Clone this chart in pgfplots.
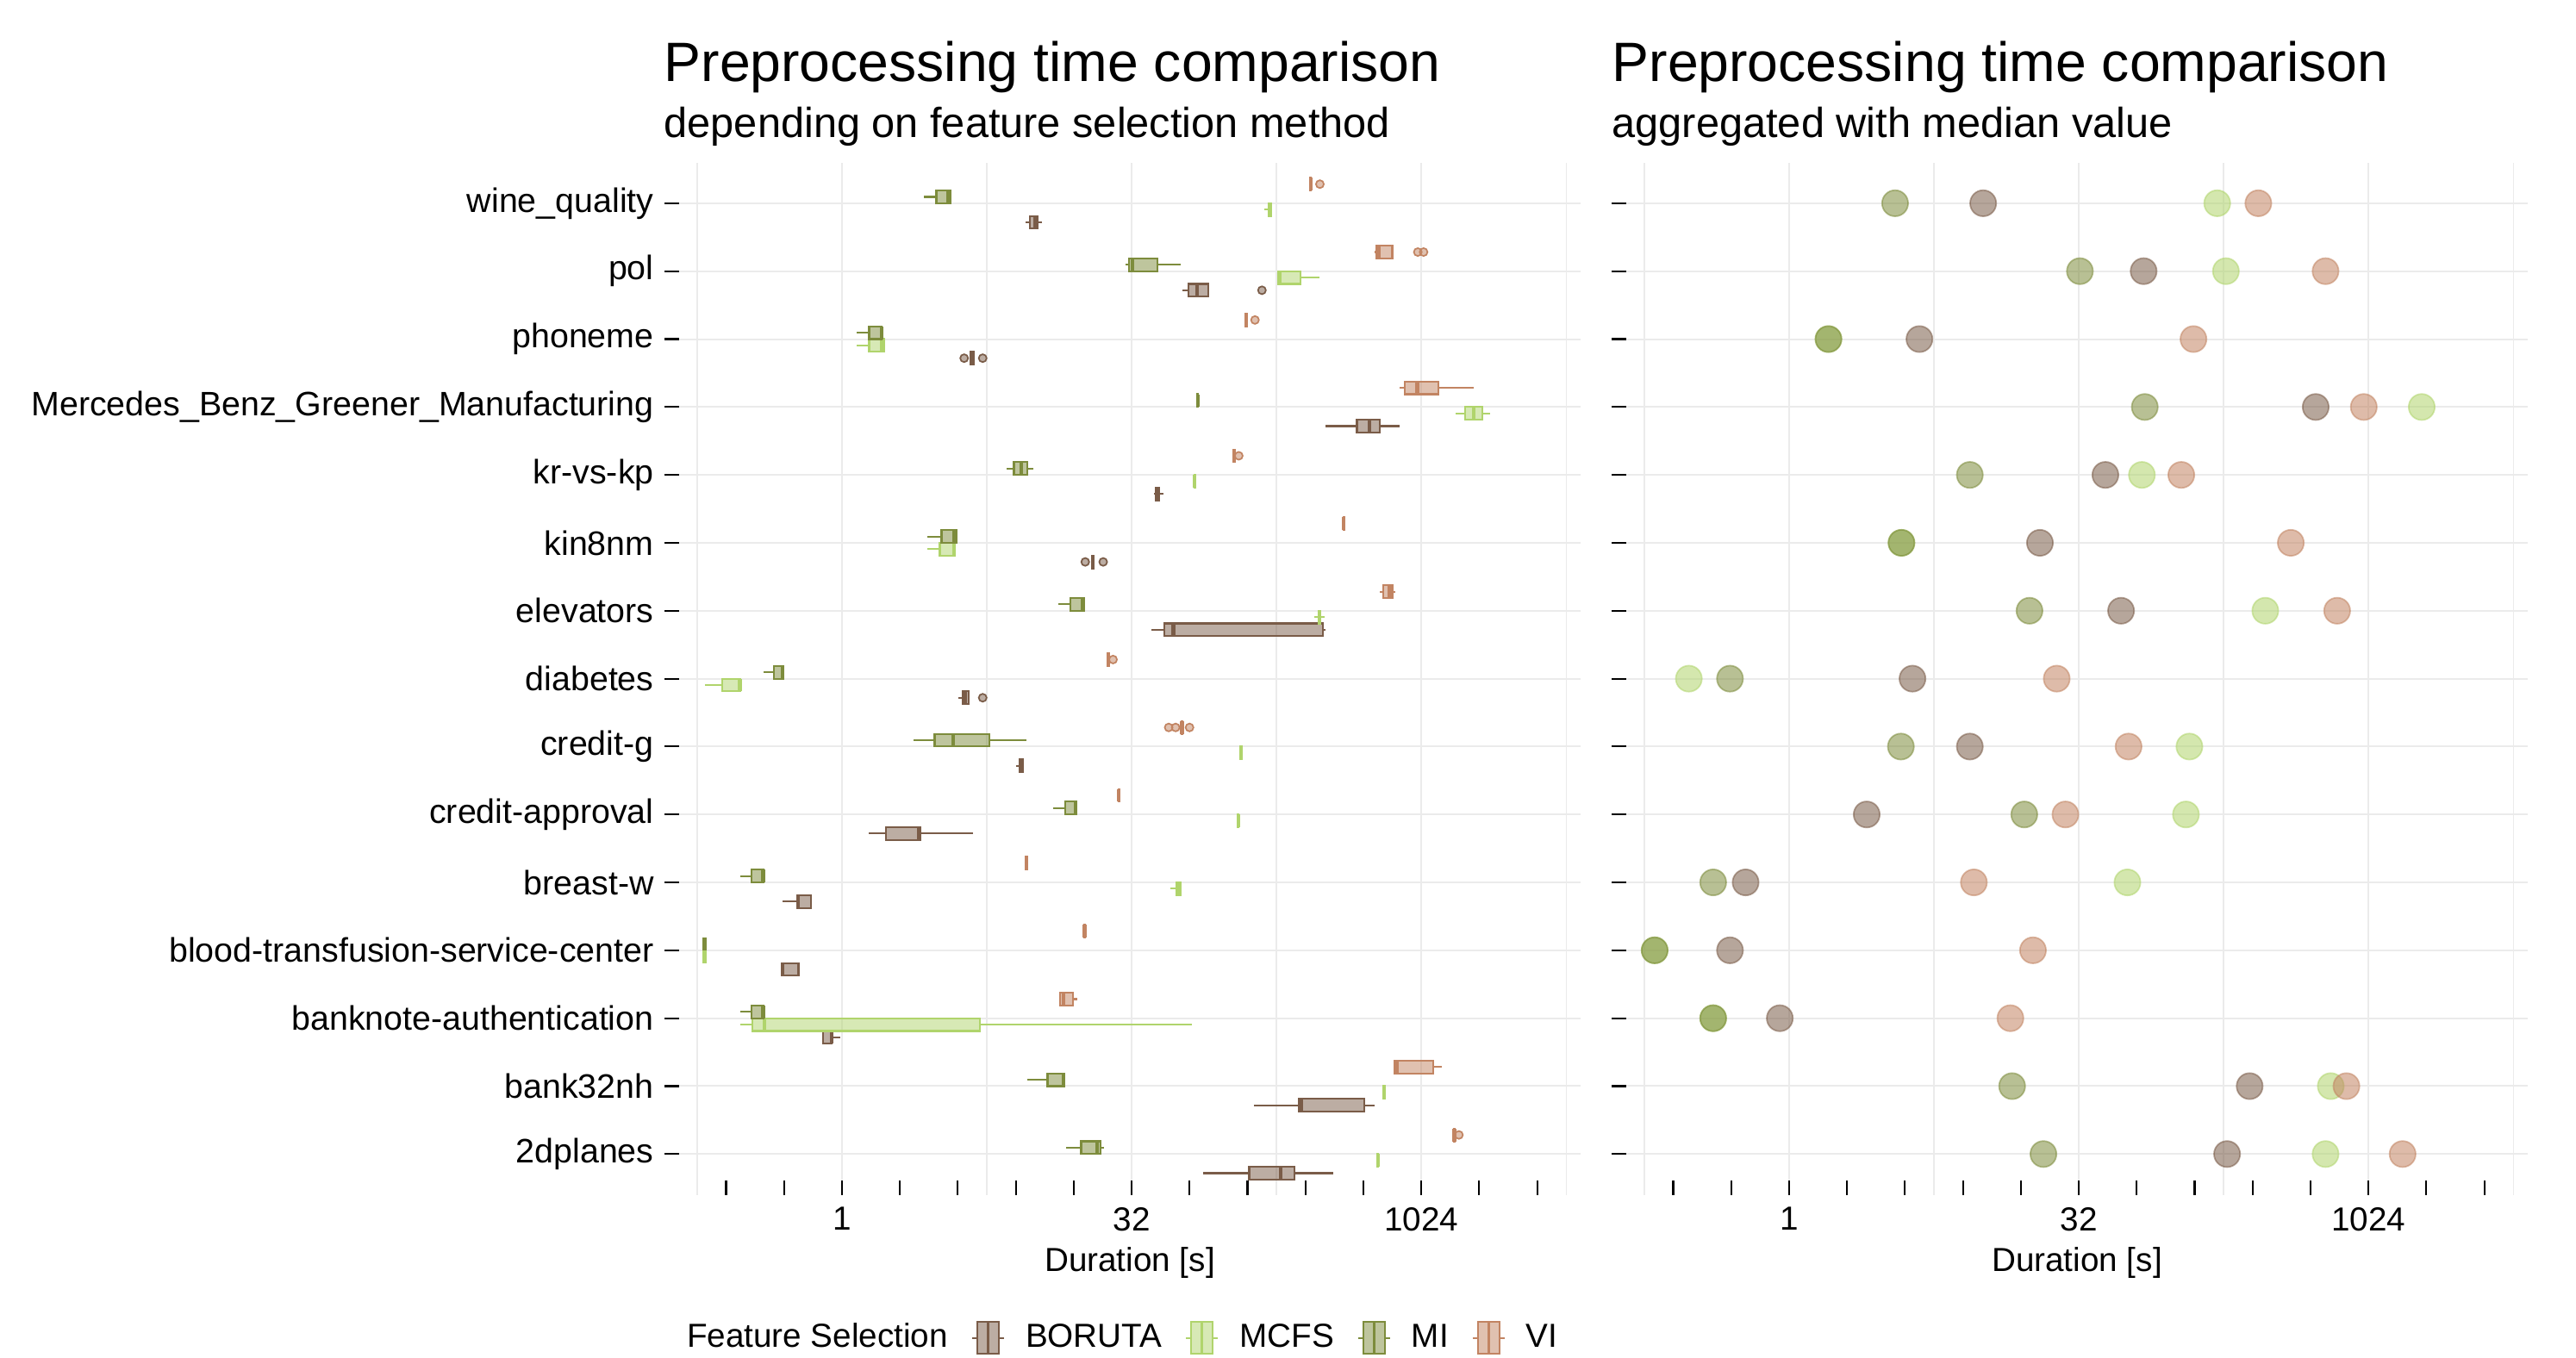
\documentclass[border=0pt]{standalone}
\usepackage{fontspec}
\setmainfont{Liberation Sans}
\usepackage{pgfplots}
\pgfplotsset{compat=1.18}
\usepgfplotslibrary{statistics}
\definecolor{cBor}{HTML}{7A5C48}
\definecolor{cMcf}{HTML}{B0D46C}
\definecolor{cMi}{HTML}{7D8C3C}
\definecolor{cVi}{HTML}{C28462}
\definecolor{gridc}{HTML}{EBEBEB}

\pgfplotsset{
  panel/.style={
    scale only axis, width=10.46cm, height=11.98cm,
    xmin=-2.81, xmax=12.75, ymin=0.4, ymax=15.6,
    axis line style={draw=none},
    xtick={0,5,10}, xticklabels={1,32,1024},
    minor xtick={-2,...,12},
    extra x ticks={-2.5,2.5,7.5,12.5}, extra x tick labels={},
    extra x tick style={major tick length=0pt, grid=major, major grid style={gridc, line width=0.38pt}},
    ytick={1,...,15},
    xtick align=inside, ytick align=outside,
    xtick pos=bottom, ytick pos=left,
    major tick length=0.17cm, minor tick length=0.17cm,
    every tick/.style={black, line width=0.6pt},
    xmajorgrids, ymajorgrids, xminorgrids=false,
    major grid style={gridc, line width=0.57pt},
    tick label style={font=\fontsize{11.2}{13}\selectfont, black},
    xticklabel style={yshift=-0.02cm, font=\fontsize{11}{13}\selectfont},
    label style={font=\fontsize{11}{13}\selectfont},
    xlabel={Duration [s]},
    xlabel style={at={(axis description cs:0.5,0)}, anchor=base, yshift=-0.89cm},
    boxplot/draw direction=x,
    boxplot/box extend=0.1875,
    boxplot/whisker extend=0,
  },
  bx/.style={draw=#1, fill=#1, fill opacity=0.5, line width=0.6pt, solid, mark=none,
    boxplot/every median/.style={line width=1.2pt}},
  ol/.style={only marks, mark=*, mark size=1.3pt, mark options={draw=#1, fill=#1, fill opacity=0.5, line width=0.5pt}},
  pt/.style={only marks, mark=*, mark size=4.3pt, mark options={draw=#1, fill=#1, fill opacity=0.55, draw opacity=0.55, line width=0.5pt}},
}

\newcommand{\bB}[6]{\addplot[bx=cBor, boxplot prepared={draw position=#1-0.28125, lower whisker=#2, lower quartile=#3, median=#4, upper quartile=#5, upper whisker=#6}] coordinates {};}
\newcommand{\bC}[6]{\addplot[bx=cMcf, boxplot prepared={draw position=#1-0.09375, lower whisker=#2, lower quartile=#3, median=#4, upper quartile=#5, upper whisker=#6}] coordinates {};}
\newcommand{\bM}[6]{\addplot[bx=cMi, boxplot prepared={draw position=#1+0.09375, lower whisker=#2, lower quartile=#3, median=#4, upper quartile=#5, upper whisker=#6}] coordinates {};}
\newcommand{\bV}[6]{\addplot[bx=cVi, boxplot prepared={draw position=#1+0.28125, lower whisker=#2, lower quartile=#3, median=#4, upper quartile=#5, upper whisker=#6}] coordinates {};}

\newcommand{\boxkey}[1]{%
  \draw[draw=#1, fill=#1, fill opacity=0.5, line width=0.57pt] (0.06cm,-0.185cm) rectangle (0.31cm,0.185cm);
  \draw[draw=#1, line width=0.9pt] (0.185cm,-0.185cm) -- (0.185cm,0.185cm);
  \draw[draw=#1, line width=0.57pt] (0cm,0cm) -- (0.06cm,0cm) (0.31cm,0cm) -- (0.37cm,0cm);}

\begin{document}
\begin{tikzpicture}
\useasboundingbox (0,0) rectangle (29.89,15.76);

% titles
\node[anchor=base west, inner sep=0pt, font=\fontsize{18.3}{21}\selectfont] at (7.70,14.81) {Preprocessing time comparison};
\node[anchor=base west, inner sep=0pt, font=\fontsize{13.86}{16}\selectfont] at (7.70,14.16) {depending on feature selection method};
\node[anchor=base west, inner sep=0pt, font=\fontsize{18.3}{21}\selectfont] at (18.70,14.81) {Preprocessing time comparison};
\node[anchor=base west, inner sep=0pt, font=\fontsize{13.86}{16}\selectfont] at (18.70,14.16) {aggregated with median value};

% ---------------- left panel: boxplots (values are log2 of duration in s)
\begin{axis}[panel, at={(7.88cm,1.894cm)}, anchor=south west,
  yticklabels={2dplanes,bank32nh,banknote-authentication,blood-transfusion-service-center,breast-w,credit-approval,credit-g,diabetes,elevators,kin8nm,kr-vs-kp,Mercedes\_Benz\_Greener\_Manufacturing,phoneme,pol,wine\_quality},
  legend columns=-1,
  legend style={draw=none, fill=none, inner sep=0pt, outer sep=0pt,
    at={(axis description cs:-0.0143,-0.1553)}, anchor=south west,
    font=\fontsize{11}{13}\selectfont, nodes={inner sep=0pt},
    /tikz/every odd column/.style={column sep=0.24cm},
    /tikz/every even column/.style={column sep=0.27cm}},
]
\addlegendimage{empty legend}\addlegendentry{Feature Selection}
\addlegendimage{legend image code/.code={\boxkey{cBor}}}\addlegendentry{BORUTA}
\addlegendimage{legend image code/.code={\boxkey{cMcf}}}\addlegendentry{MCFS}
\addlegendimage{legend image code/.code={\boxkey{cMi}}}\addlegendentry{MI}
\addlegendimage{legend image code/.code={\boxkey{cVi}}}\addlegendentry{VI}

% wine_quality (15)
\bB{15}{3.17}{3.24}{3.33}{3.38}{3.46}
\bC{15}{7.29}{7.37}{7.39}{7.41}{7.43}
\bM{15}{1.42}{1.63}{1.84}{1.88}{1.88}
\bV{15}{8.06}{8.08}{8.09}{8.10}{8.10}
% pol (14)
\bB{14}{5.88}{5.98}{6.13}{6.32}{6.32}
\bC{14}{7.53}{7.53}{7.55}{7.92}{8.25}
\bM{14}{4.90}{4.96}{5.02}{5.45}{5.85}
\bV{14}{9.19}{9.22}{9.26}{9.50}{9.50}
% phoneme (13)
\bB{13}{2.20}{2.22}{2.25}{2.28}{2.28}
\bC{13}{0.26}{0.47}{0.68}{0.73}{0.75}
\bM{13}{0.26}{0.47}{0.68}{0.69}{0.69}
\bV{13}{6.96}{6.97}{6.98}{6.99}{6.99}
% Mercedes (12)
\bB{12}{8.35}{8.89}{9.10}{9.29}{9.62}
\bC{12}{10.59}{10.75}{10.91}{11.06}{11.19}
\bM{12}{6.12}{6.13}{6.14}{6.15}{6.16}
\bV{12}{9.62}{9.71}{9.93}{10.30}{10.91}
% kr-vs-kp (11)
\bB{11}{5.39}{5.42}{5.45}{5.48}{5.55}
\bC{11}{6.07}{6.08}{6.09}{6.10}{6.11}
\bM{11}{2.85}{2.97}{3.10}{3.20}{3.31}
\bV{11}{6.75}{6.76}{6.77}{6.78}{6.79}
% kin8nm (10)
\bB{10}{4.30}{4.31}{4.33}{4.35}{4.36}
\bC{10}{1.48}{1.69}{1.94}{1.95}{1.95}
\bM{10}{1.48}{1.72}{1.94}{1.98}{1.98}
\bV{10}{8.65}{8.66}{8.66}{8.67}{8.67}
% elevators (9)
\bB{9}{5.34}{5.56}{5.72}{8.30}{8.35}
\bC{9}{8.15}{8.23}{8.24}{8.26}{8.33}
\bM{9}{3.74}{3.95}{4.15}{4.18}{4.18}
\bV{9}{9.29}{9.34}{9.45}{9.50}{9.55}
% diabetes (8)
\bB{8}{2.01}{2.08}{2.13}{2.19}{2.19}
\bC{8}{-2.36}{-2.07}{-1.76}{-1.75}{-1.75}
\bM{8}{-1.35}{-1.17}{-1.02}{-1.01}{-1.01}
\bV{8}{4.58}{4.59}{4.60}{4.61}{4.62}
% credit-g (7)
\bB{7}{3.00}{3.07}{3.11}{3.13}{3.13}
\bC{7}{6.87}{6.88}{6.89}{6.90}{6.91}
\bM{7}{1.23}{1.60}{1.92}{2.54}{3.18}
\bV{7}{5.84}{5.86}{5.87}{5.88}{5.90}
% credit-approval (6)
\bB{6}{0.47}{0.76}{1.32}{1.36}{2.27}
\bC{6}{6.82}{6.83}{6.84}{6.85}{6.87}
\bM{6}{3.65}{3.86}{4.03}{4.04}{4.04}
\bV{6}{4.77}{4.77}{4.78}{4.79}{4.79}
% breast-w (5)
\bB{5}{-1.02}{-0.77}{-0.76}{-0.54}{-0.54}
\bC{5}{5.67}{5.78}{5.82}{5.85}{5.85}
\bM{5}{-1.76}{-1.56}{-1.36}{-1.35}{-1.35}
\bV{5}{3.15}{3.17}{3.18}{3.20}{3.21}
% blood-transfusion (4)
\bB{4}{-1.04}{-1.04}{-1.02}{-0.75}{-0.75}
\bC{4}{-2.37}{-2.37}{-2.37}{-2.37}{-2.37}
\bM{4}{-2.37}{-2.37}{-2.37}{-2.37}{-2.37}
\bV{4}{4.17}{4.18}{4.19}{4.20}{4.21}
% banknote (3)
\bB{3}{-0.32}{-0.32}{-0.18}{-0.18}{-0.03}
\bC{3}{-1.76}{-1.54}{-1.34}{2.38}{6.04}
\bM{3}{-1.76}{-1.56}{-1.36}{-1.35}{-1.35}
\bV{3}{3.77}{3.77}{3.82}{3.99}{4.07}
% bank32nh (2)
\bB{2}{7.11}{7.89}{7.93}{9.02}{9.19}
\bC{2}{9.34}{9.35}{9.36}{9.37}{9.38}
\bM{2}{3.20}{3.55}{3.83}{3.84}{3.84}
\bV{2}{9.52}{9.54}{9.58}{10.21}{10.35}
% 2dplanes (1)
\bB{1}{6.24}{7.03}{7.57}{7.81}{8.48}
\bC{1}{9.23}{9.24}{9.25}{9.26}{9.27}
\bM{1}{3.87}{4.13}{4.40}{4.46}{4.52}
\bV{1}{10.55}{10.56}{10.57}{10.58}{10.59}

% outliers
\addplot[ol=cBor] coordinates {(7.25,13.71875) (2.11,12.71875) (2.43,12.71875) (4.20,9.71875) (4.51,9.71875) (2.43,7.71875)};
\addplot[ol=cVi] coordinates {(8.25,15.28125) (9.94,14.28125) (10.04,14.28125) (7.13,13.28125) (6.85,11.28125) (4.68,8.28125) (5.64,7.28125) (5.76,7.28125) (6.00,7.28125) (10.65,1.28125)};
\end{axis}

% ---------------- right panel: medians
\begin{axis}[panel, at={(18.87cm,1.894cm)}, anchor=south west, yticklabels={}]
\addplot[pt=cBor] coordinates {(7.56,1) (7.95,2) (-0.16,3) (-1.02,4) (-0.75,5) (1.34,6) (3.12,7) (2.13,8) (5.73,9) (4.33,10) (5.46,11) (9.09,12) (2.25,13) (6.12,14) (3.35,15)};
\addplot[pt=cMcf] coordinates {(9.26,1) (9.35,2) (-1.31,3) (-2.32,4) (5.84,5) (6.85,6) (6.91,7) (-1.73,8) (8.22,9) (1.94,10) (6.09,11) (10.92,12) (0.68,13) (7.54,14) (7.39,15)};
\addplot[pt=cMi] coordinates {(4.39,1) (3.85,2) (-1.31,3) (-2.32,4) (-1.31,5) (4.06,6) (1.93,7) (-1.02,8) (4.15,9) (1.94,10) (3.12,11) (6.14,12) (0.68,13) (5.02,14) (1.83,15)};
\addplot[pt=cVi] coordinates {(10.59,1) (9.62,2) (3.82,3) (4.21,4) (3.19,5) (4.77,6) (5.86,7) (4.62,8) (9.46,9) (8.66,10) (6.77,11) (9.92,12) (6.98,13) (9.26,14) (8.10,15)};
\end{axis}
\end{tikzpicture}
\end{document}
